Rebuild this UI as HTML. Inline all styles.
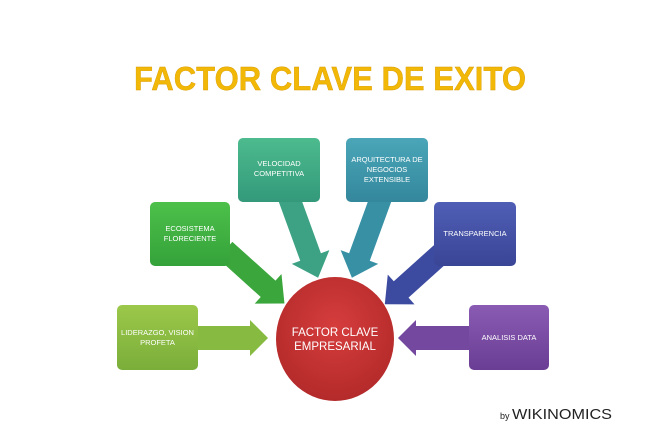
<!DOCTYPE html>
<html><head><meta charset="utf-8"><style>
html,body{margin:0;padding:0;background:#fff;}
svg{display:block;}
</style></head><body>
<svg width="650" height="434" viewBox="0 0 650 434" xmlns="http://www.w3.org/2000/svg">
<defs>
<linearGradient id="g1" x1="0" y1="0" x2="0" y2="1"><stop offset="0" stop-color="#9cc84a"/><stop offset="1" stop-color="#7aae3a"/></linearGradient>
<linearGradient id="g2" x1="0" y1="0" x2="0" y2="1"><stop offset="0" stop-color="#4dc04a"/><stop offset="1" stop-color="#34a23a"/></linearGradient>
<linearGradient id="g3" x1="0" y1="0" x2="0" y2="1"><stop offset="0" stop-color="#4dbb8e"/><stop offset="1" stop-color="#33997a"/></linearGradient>
<linearGradient id="g4" x1="0" y1="0" x2="0" y2="1"><stop offset="0" stop-color="#4aa6b8"/><stop offset="1" stop-color="#34879c"/></linearGradient>
<linearGradient id="g5" x1="0" y1="0" x2="0" y2="1"><stop offset="0" stop-color="#4f5eb5"/><stop offset="1" stop-color="#3a4596"/></linearGradient>
<linearGradient id="g6" x1="0" y1="0" x2="0" y2="1"><stop offset="0" stop-color="#8a5bb3"/><stop offset="1" stop-color="#6a3e94"/></linearGradient>
<radialGradient id="gc" cx="0.5" cy="0.4" r="0.6"><stop offset="0" stop-color="#d63d3d"/><stop offset="1" stop-color="#b42a2a"/></radialGradient>
</defs>
<text x="330" y="90" text-anchor="middle" font-family="Liberation Sans, sans-serif" font-weight="bold" font-size="33" fill="#f2b807" stroke="#d99a00" stroke-width="0.4" textLength="392" lengthAdjust="spacingAndGlyphs">FACTOR CLAVE DE EXITO</text>

<g transform="translate(195,338)"><polygon points="0,-12 55,-12 55,-18 73,0 55,18 55,12 0,12" fill="#86ba40"/></g>
<g transform="translate(472,338) rotate(180)"><polygon points="0,-12 56,-12 56,-18 74,0 56,18 56,12 0,12" fill="#74489f"/></g>
<g transform="translate(225,250) rotate(42)"><polygon points="0,-11 58,-11 58,-20 80,0 58,20 58,11 0,11" fill="#3aa63c"/></g>
<g transform="translate(288,195) rotate(70)"><polygon points="0,-11 66,-11 66,-20 88,0 66,20 66,11 0,11" fill="#3ca283"/></g>
<g transform="translate(382,195) rotate(110)"><polygon points="0,-11 66,-11 66,-20 88,0 66,20 66,11 0,11" fill="#3890a5"/></g>
<g transform="translate(445,250) rotate(138)"><polygon points="0,-11 59,-11 59,-20 81,0 59,20 59,11 0,11" fill="#3c4aa0"/></g>

<g font-family="Liberation Sans, sans-serif" font-size="7.5" fill="#fff" text-anchor="middle">
<rect x="117" y="305" width="81" height="65" rx="5" fill="url(#g1)"/>
<text x="157.5" y="335">LIDERAZGO, VISION</text><text x="157.5" y="345">PROFETA</text>
<rect x="150" y="202" width="80" height="64" rx="5" fill="url(#g2)"/>
<text x="190" y="231">ECOSISTEMA</text><text x="190" y="241">FLORECIENTE</text>
<rect x="238" y="138" width="82" height="64" rx="5" fill="url(#g3)"/>
<text x="279" y="166">VELOCIDAD</text><text x="279" y="176">COMPETITIVA</text>
<rect x="346" y="138" width="82" height="64" rx="5" fill="url(#g4)"/>
<text x="387" y="162">ARQUITECTURA DE</text><text x="387" y="172">NEGOCIOS</text><text x="387" y="182">EXTENSIBLE</text>
<rect x="434" y="202" width="82" height="64" rx="5" fill="url(#g5)"/>
<text x="475" y="236">TRANSPARENCIA</text>
<rect x="469" y="305" width="80" height="65" rx="5" fill="url(#g6)"/>
<text x="509" y="340">ANALISIS DATA</text>
</g>

<ellipse cx="335" cy="339" rx="59" ry="62" fill="url(#gc)"/>
<g font-family="Liberation Sans, sans-serif" font-size="11.5" fill="#fff" text-anchor="middle">
<text x="335" y="336">FACTOR CLAVE</text><text x="335" y="350">EMPRESARIAL</text>
</g>

<text x="500" y="419" font-family="Liberation Sans, sans-serif" font-size="9" fill="#222">by</text>
<text x="512" y="419" font-family="Liberation Sans, sans-serif" font-size="15" fill="#222" textLength="100" lengthAdjust="spacingAndGlyphs">WIKINOMICS</text>
</svg>
</body></html>
